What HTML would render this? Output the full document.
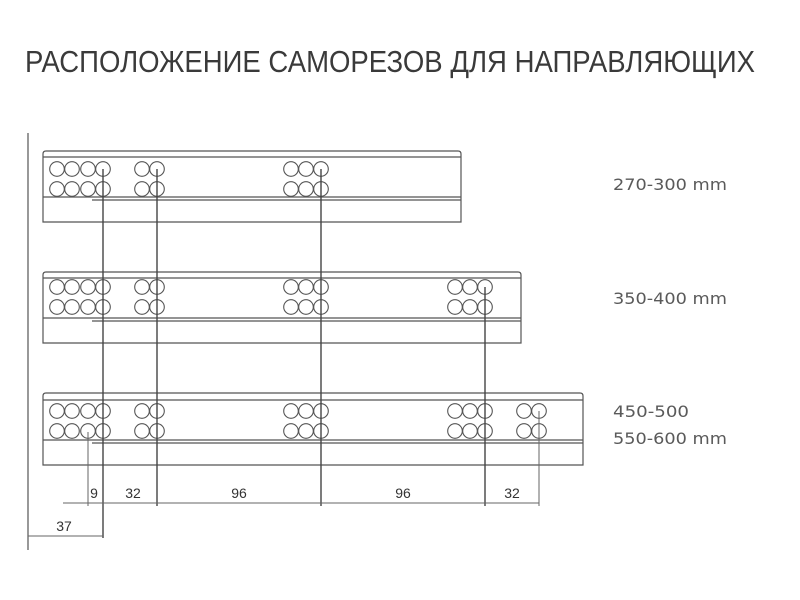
<!DOCTYPE html>
<html><head><meta charset="utf-8"><style>
html,body{margin:0;padding:0;background:#fff;}
svg{display:block;}
</style></head><body>
<svg width="800" height="600" viewBox="0 0 800 600" xmlns="http://www.w3.org/2000/svg">
<rect width="800" height="600" fill="#fff"/>
<text x="25" y="72" font-family="Liberation Sans, sans-serif" font-size="31" fill="#3a3a3a" textLength="730" lengthAdjust="spacingAndGlyphs">РАСПОЛОЖЕНИЕ САМОРЕЗОВ ДЛЯ НАПРАВЛЯЮЩИХ</text>
<g font-family="DejaVu Sans, sans-serif" font-size="16" fill="#5a5a5a">
<text x="613" y="190" textLength="114" lengthAdjust="spacingAndGlyphs">270-300 mm</text>
<text x="613" y="304" textLength="114" lengthAdjust="spacingAndGlyphs">350-400 mm</text>
<text x="613" y="417" textLength="76" lengthAdjust="spacingAndGlyphs">450-500</text>
<text x="613" y="444" textLength="114" lengthAdjust="spacingAndGlyphs">550-600 mm</text>
</g>
<g fill="none" stroke="#555" stroke-width="1.2">
<line x1="28" y1="133" x2="28" y2="550"/>
<path d="M43,222 V154 Q43,151 46,151 H458 Q461,151 461,154 V222 Z"/>
<line x1="43" y1="157" x2="461" y2="157"/>
<line x1="43" y1="197" x2="461" y2="197"/>
<line x1="92" y1="200" x2="461" y2="200"/>
<path d="M43,343 V275 Q43,272 46,272 H518 Q521,272 521,275 V343 Z"/>
<line x1="43" y1="278" x2="521" y2="278"/>
<line x1="43" y1="318" x2="521" y2="318"/>
<line x1="92" y1="321" x2="521" y2="321"/>
<path d="M43,465 V396 Q43,393 46,393 H580 Q583,393 583,396 V465 Z"/>
<line x1="43" y1="400" x2="583" y2="400"/>
<line x1="43" y1="440" x2="583" y2="440"/>
<line x1="92" y1="443" x2="583" y2="443"/>
</g>
<g fill="none" stroke="#555" stroke-width="1.1">
<g id="r1">
<circle cx="57" cy="169" r="7.3"/><circle cx="72" cy="169" r="7.3"/><circle cx="88" cy="169" r="7.3"/><circle cx="103" cy="169" r="7.3"/>
<circle cx="57" cy="189" r="7.3"/><circle cx="72" cy="189" r="7.3"/><circle cx="88" cy="189" r="7.3"/><circle cx="103" cy="189" r="7.3"/>
<circle cx="142" cy="169" r="7.3"/><circle cx="157" cy="169" r="7.3"/><circle cx="142" cy="189" r="7.3"/><circle cx="157" cy="189" r="7.3"/>
<circle cx="291" cy="169" r="7.3"/><circle cx="306" cy="169" r="7.3"/><circle cx="321" cy="169" r="7.3"/>
<circle cx="291" cy="189" r="7.3"/><circle cx="306" cy="189" r="7.3"/><circle cx="321" cy="189" r="7.3"/>
</g>
<use href="#r1" y="118"/>
<circle cx="455" cy="287" r="7.3"/><circle cx="470" cy="287" r="7.3"/><circle cx="485" cy="287" r="7.3"/>
<circle cx="455" cy="307" r="7.3"/><circle cx="470" cy="307" r="7.3"/><circle cx="485" cy="307" r="7.3"/>
<use href="#r1" y="242"/>
<circle cx="455" cy="411" r="7.3"/><circle cx="470" cy="411" r="7.3"/><circle cx="485" cy="411" r="7.3"/>
<circle cx="455" cy="431" r="7.3"/><circle cx="470" cy="431" r="7.3"/><circle cx="485" cy="431" r="7.3"/>
<circle cx="524" cy="411" r="7.3"/><circle cx="539" cy="411" r="7.3"/>
<circle cx="524" cy="431" r="7.3"/><circle cx="539" cy="431" r="7.3"/>
</g>
<g stroke="#444" stroke-width="1.4">
<line x1="103" y1="169" x2="103" y2="538"/>
<line x1="157" y1="169" x2="157" y2="506"/>
<line x1="321" y1="169" x2="321" y2="506"/>
<line x1="485" y1="287" x2="485" y2="506"/>
</g>
<g stroke="#666" stroke-width="1">
<line x1="539" y1="411" x2="539" y2="506"/>
<line x1="88" y1="432" x2="88" y2="506"/>
<line x1="63" y1="503" x2="539" y2="503"/>
<line x1="28" y1="536" x2="103" y2="536"/>
</g>
<g font-family="Liberation Sans, sans-serif" font-size="14" fill="#333" text-anchor="middle">
<text x="94" y="498">9</text>
<text x="133" y="498">32</text>
<text x="239" y="498">96</text>
<text x="403" y="498">96</text>
<text x="512" y="498">32</text>
<text x="64" y="531">37</text>
</g>
</svg>
</body></html>
